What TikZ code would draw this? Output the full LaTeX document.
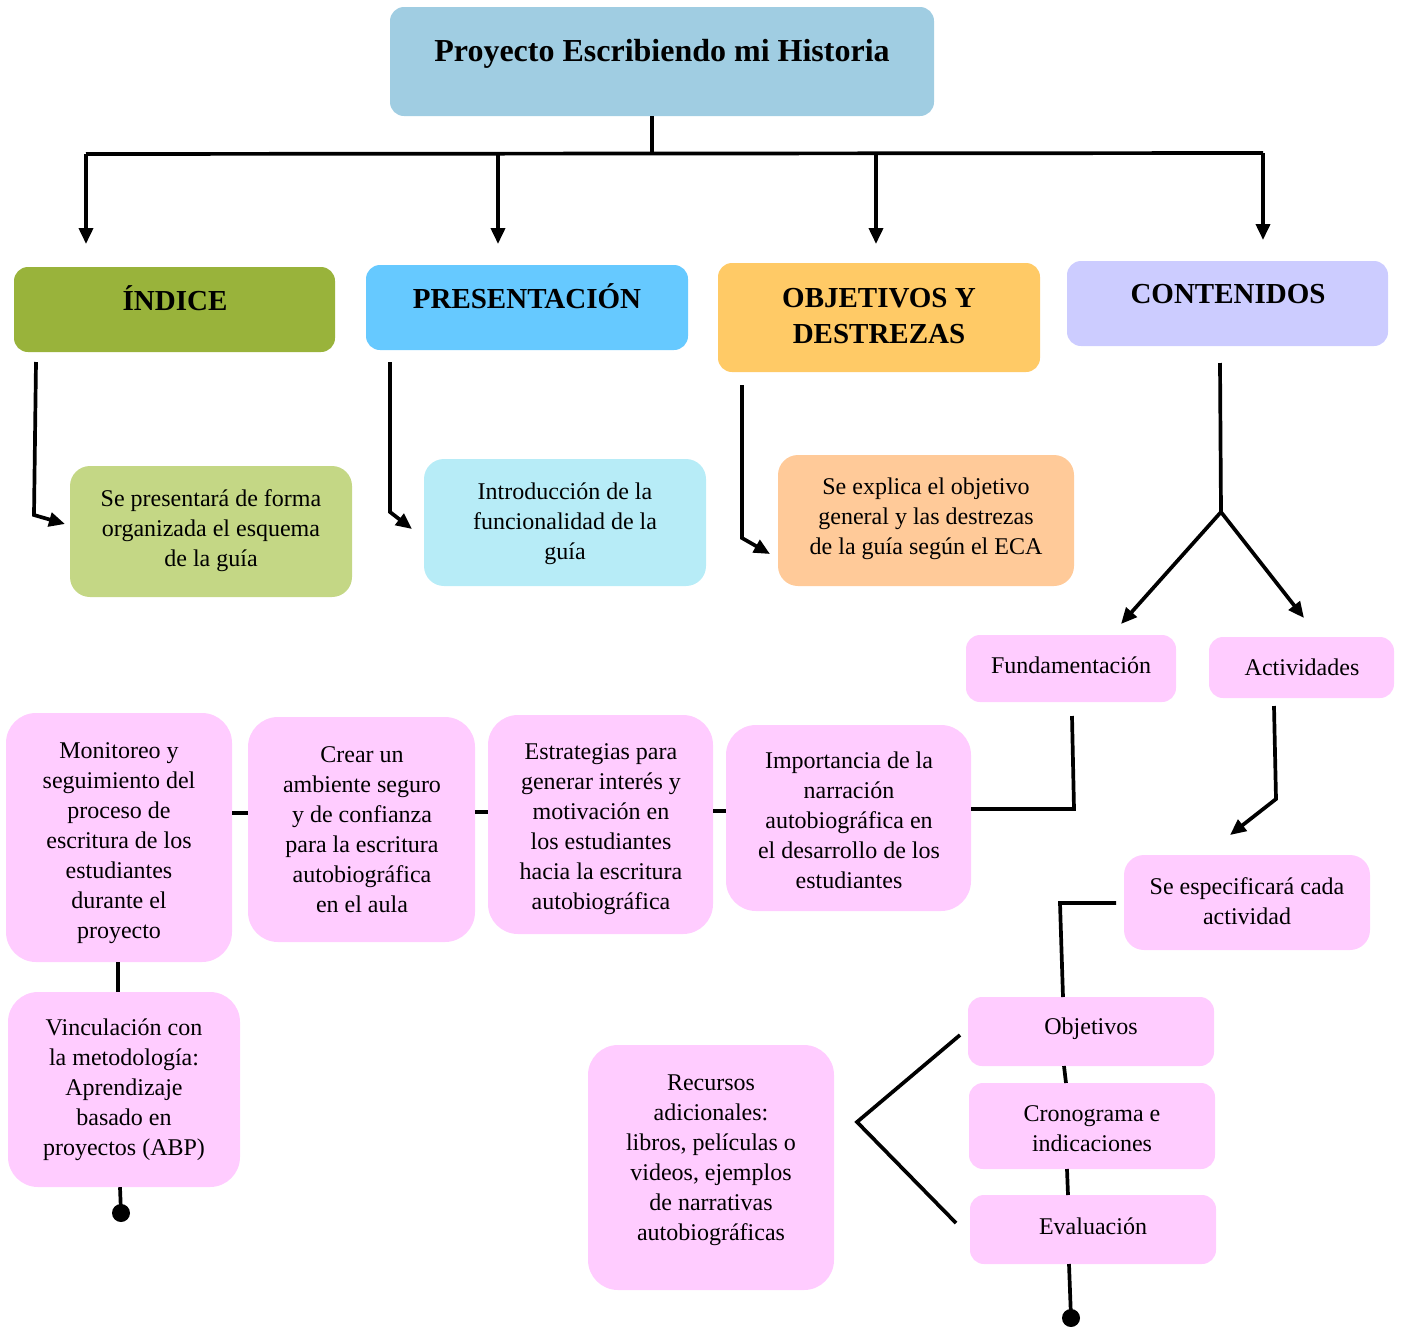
\documentclass[tikz,border=0pt]{standalone}
\usepackage{fontspec}
\setmainfont{Liberation Serif}
\usetikzlibrary{arrows.meta,calc}
\newcommand\bodyfs{\fontsize{24}{30}\selectfont}
\newcommand\headfs{\fontsize{29}{36}\selectfont\bfseries}
\newcommand\titlefs{\fontsize{32}{38}\selectfont\bfseries}
\definecolor{cTitle}{HTML}{A0CDE2}
\definecolor{cInd}{HTML}{99B33B}
\definecolor{cPres}{HTML}{66C9FF}
\definecolor{cObj}{HTML}{FFCA66}
\definecolor{cCont}{HTML}{CCCCFF}
\definecolor{cSePres}{HTML}{C4D785}
\definecolor{cIntro}{HTML}{B7ECF7}
\definecolor{cSeExp}{HTML}{FFCA99}
\definecolor{cPink}{HTML}{FFCCFF}
\begin{document}
\begin{tikzpicture}[x=1pt,y=-1pt,
  box/.style={rectangle, inner sep=0pt, draw=none},
  sbox/.style={box, rounded corners=14pt},
  mbox/.style={box, rounded corners=20pt},
  bbox/.style={box, rounded corners=30pt},
  txt/.style={align=center, inner sep=0pt, font=\bodyfs},
  htxt/.style={align=center, inner sep=0pt, font=\headfs},
  ln/.style={line width=3.7pt, draw=black},
  arr/.style={ln, -{Triangle[length=16pt,width=14pt]}}]
\useasboundingbox (0,0) rectangle (1401,1326);

% ---------- boxes ----------
\node[sbox, fill=cTitle, minimum width=544pt, minimum height=109pt] (title) at (662,61.5) {};
\node[align=center, inner sep=0pt, font=\titlefs] (title-t) at (662,54) {Proyecto Escribiendo mi Historia};

\node[sbox, fill=cInd, minimum width=321pt, minimum height=85pt] (indice) at (174.5,309.5) {};
\node[htxt] (indice-t) at (175,298) {ÍNDICE};

\node[sbox, fill=cPres, minimum width=322pt, minimum height=85pt] (pres) at (527,307.5) {};
\node[htxt] (pres-t) at (527,296) {PRESENTACIÓN};

\node[sbox, fill=cObj, minimum width=322pt, minimum height=109pt] (obj) at (879,317.5) {};
\node[htxt] (obj-t) at (879,316) {OBJETIVOS Y\\DESTREZAS};

\node[sbox, fill=cCont, minimum width=321pt, minimum height=85pt] (cont) at (1227.5,303.5) {};
\node[htxt] (cont-t) at (1228,294) {CONTENIDOS};

\node[mbox, fill=cSePres, minimum width=282pt, minimum height=131pt] (sepres) at (211,531.5) {};
\node[txt] (sepres-t) at (211,531) {Se presentará de forma\\organizada el esquema\\de la guía};

\node[mbox, fill=cIntro, minimum width=282pt, minimum height=127pt] (intro) at (565,522.5) {};
\node[txt] (intro-t) at (565,524) {Introducción de la\\funcionalidad de la\\guía};

\node[mbox, fill=cSeExp, minimum width=296pt, minimum height=131pt] (sexp) at (926,520.5) {};
\node[txt] (sexp-t) at (926,519) {Se explica el objetivo\\general y las destrezas\\de la guía según el ECA};

\node[sbox, fill=cPink, minimum width=210pt, minimum height=67pt] (fund) at (1071,668.5) {};
\node[txt] (fund-t) at (1071,665) {Fundamentación};

\node[sbox, fill=cPink, minimum width=185pt, minimum height=61pt] (act) at (1301.5,667.5) {};
\node[txt] (act-t) at (1302,667) {Actividades};

\node[mbox, fill=cPink, minimum width=246pt, minimum height=95pt] (espec) at (1247,902.5) {};
\node[txt] (espec-t) at (1247,901) {Se especificará cada\\actividad};

\node[sbox, fill=cPink, minimum width=246pt, minimum height=69pt] (objv) at (1091,1031.5) {};
\node[txt] (objv-t) at (1091,1029) {Objetivos};

\node[sbox, fill=cPink, minimum width=246pt, minimum height=86pt] (crono) at (1092,1126) {};
\node[txt] (crono-t) at (1092,1129) {Cronograma e\\indicaciones};

\node[sbox, fill=cPink, minimum width=246pt, minimum height=69pt] (eval) at (1093,1229.5) {};
\node[txt] (eval-t) at (1093,1226) {Evaluación};

\node[bbox, fill=cPink, minimum width=246pt, minimum height=245pt] (recur) at (711,1167.5) {};
\node[txt] (recur-t) at (711,1160) {Recursos\\adicionales:\\libros, películas o\\videos, ejemplos\\de narrativas\\autobiográficas};

\node[bbox, fill=cPink, minimum width=245pt, minimum height=186pt] (import) at (848.5,818) {};
\node[txt] (import-t) at (849,820) {Importancia de la\\narración\\autobiográfica en\\el desarrollo de los\\estudiantes};

\node[bbox, fill=cPink, minimum width=225pt, minimum height=219pt] (estrat) at (600.5,824.5) {};
\node[txt] (estrat-t) at (601,829) {Estrategias para\\generar interés y\\motivación en\\los estudiantes\\hacia la escritura\\autobiográfica};

\node[bbox, fill=cPink, minimum width=227pt, minimum height=225pt] (crear) at (361.5,829.5) {};
\node[txt] (crear-t) at (362,830) {Crear un\\ambiente seguro\\y de confianza\\para la escritura\\autobiográfica\\en el aula};

\node[bbox, fill=cPink, minimum width=226pt, minimum height=249pt] (monit) at (119,837.5) {};
\node[txt] (monit-t) at (119,843) {Monitoreo y\\seguimiento del\\proceso de\\escritura de los\\estudiantes\\durante el\\proyecto};

\node[bbox, fill=cPink, minimum width=232pt, minimum height=195pt] (vinc) at (124,1089.5) {};
\node[txt] (vinc-t) at (124,1090) {Vinculación con\\la metodología:\\Aprendizaje\\basado en\\proyectos (ABP)};

% ---------- coordinates ----------
\coordinate (split) at (652,153.5);
\coordinate (hl) at (86,154);
\coordinate (hr) at (1263,153);
\coordinate (h2) at (498,154);
\coordinate (h3) at (876,153);
\coordinate (a1) at (86,244);
\coordinate (a2) at (498,244);
\coordinate (a3) at (876,244);
\coordinate (a4) at (1263,240);

\coordinate (i1) at (36,362);   \coordinate (i2) at (34,515);   \coordinate (i3) at (65,524);
\coordinate (p1) at (390,362);  \coordinate (p2) at (390,512);  \coordinate (p3) at (412,529);
\coordinate (o1) at (742,385);  \coordinate (o2) at (742,538);  \coordinate (o3) at (770,554);
\coordinate (c1) at (1220,363); \coordinate (fork) at (1221,512);
\coordinate (c2) at (1121,624); \coordinate (c3) at (1304,618);
\coordinate (ac1) at (1274,706); \coordinate (ac2) at (1276,799); \coordinate (ac3) at (1230,835);
\coordinate (e1) at (1116,903); \coordinate (e2) at (1060,903); \coordinate (e3) at (1063,997);
\coordinate (f1) at (1072,716); \coordinate (f2) at (1074,809);
\coordinate (b1) at (960,1035); \coordinate (b2) at (857,1122); \coordinate (b3) at (956,1223);
\coordinate (dot1) at (1071,1318);
\coordinate (dot2) at (121,1213);

% ---------- connectors ----------
\draw[ln] (split |- title.south) -- (split);
\draw[ln] (hl) -- (hr);
\draw[arr] (hl) -- (a1);
\draw[arr] (h2) -- (a2);
\draw[arr] (h3) -- (a3);
\draw[arr] (hr) -- (a4);

\draw[arr] (i1) -- (i2) -- (i3);
\draw[arr] (p1) -- (p2) -- (p3);
\draw[arr] (o1) -- (o2) -- (o3);

\draw[ln] (c1) -- (fork);
\draw[arr] (fork) -- (c2);
\draw[arr] (fork) -- (c3);

\draw[arr] (ac1) -- (ac2) -- (ac3);
\draw[ln] (e1) -- (e2) -- (e3);
\draw[ln] (1064,1066) -- (1066,1083);
\draw[ln] (1067,1169) -- (1068,1195);
\draw[ln] (1069,1264) -- (dot1);
\fill (dot1) circle (9pt);
\draw[ln] (b1) -- (b2) -- (b3);

\draw[ln] (f1) -- (f2) -- (import.east |- f2);
\draw[ln] (estrat.east |- 0,811) -- (import.west |- 0,811);
\draw[ln] (crear.east |- 0,812) -- (estrat.west |- 0,812);
\draw[ln] (monit.east |- 0,813) -- (crear.west |- 0,813);
\draw[ln] (monit.south -| 118,0) -- (vinc.north -| 118,0);
\draw[ln] (vinc.south -| 120,0) -- (dot2);
\fill (dot2) circle (9pt);
\end{tikzpicture}
\end{document}
